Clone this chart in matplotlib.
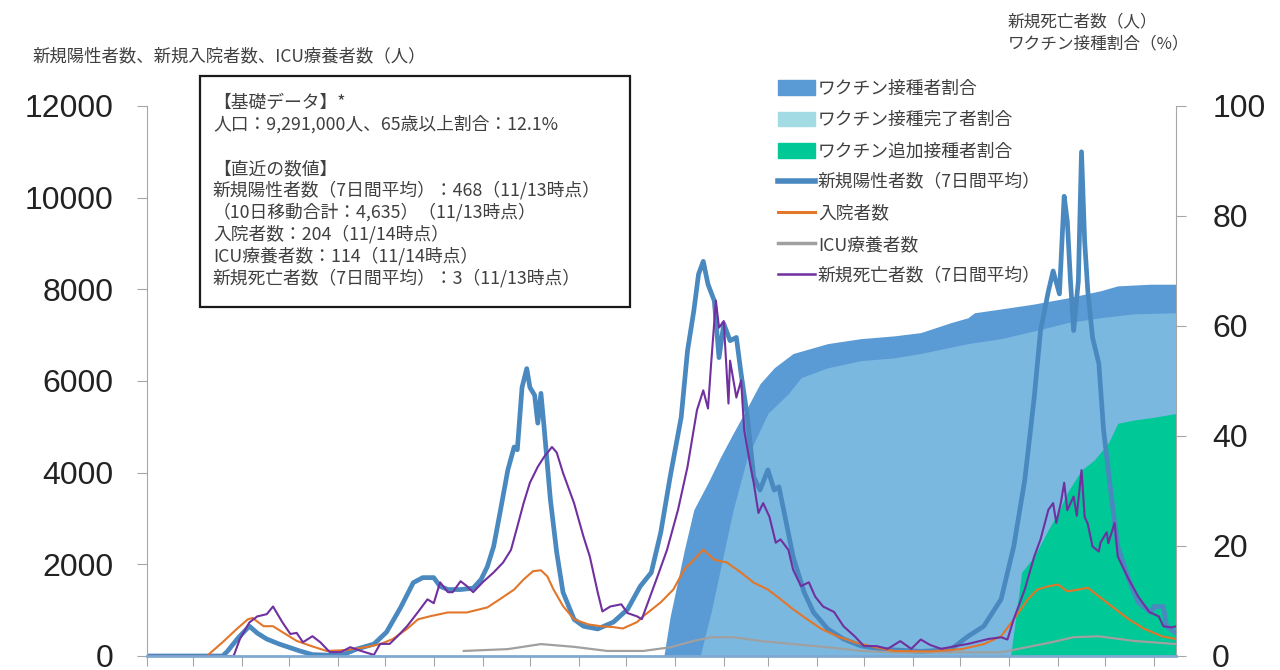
import matplotlib
matplotlib.use('Agg')
import matplotlib.pyplot as plt
import matplotlib.dates as mdates
from matplotlib.patches import Patch, Rectangle
from matplotlib.lines import Line2D
import pandas as pd

plt.rcParams['font.family'] = ['Noto Sans CJK JP', 'DejaVu Sans']

# x axis: days counted from 2020-02-01
start = pd.Timestamp('2020-02-01')
end = pd.Timestamp('2021-11-15')

# new positives (7-day average), left axis
pos_day = [0, 48, 51, 58, 65, 70, 76, 84, 97, 105, 123, 133, 144, 152, 161, 169, 175, 182, 186, 191,
           199, 207, 212, 216, 220, 224, 229, 233, 235, 238, 241, 243, 246, 248, 250, 252, 256, 260, 264, 271,
           277, 286, 296, 305, 313, 320, 326, 332, 339, 343, 347, 350, 353, 356, 360, 363, 366, 370, 374, 377,
           381, 385, 389, 394, 398, 401, 404, 410, 417, 423, 432, 442, 453, 466, 491, 510, 521, 531, 542, 550,
           557, 563, 567, 572, 575, 579, 582, 584, 586, 588, 591, 593, 595, 597, 600, 604, 607, 612, 616, 623,
           629, 637, 639, 645, 647, 653]
pos_val = [0, 0, 100, 400, 650, 500, 370, 260, 110, 30, 10, 150, 260, 520, 1060, 1600, 1710, 1710, 1520, 1450,
           1450, 1480, 1670, 1950, 2390, 3120, 4060, 4560, 4500, 5860, 6270, 5860, 5690, 5080, 5730, 4990, 3410, 2260, 1390, 800,
           650, 590, 740, 1020, 1520, 1820, 2690, 3910, 5210, 6660, 7530, 8330, 8610, 8110, 7750, 6510, 7250, 6880, 6950, 6160,
           5210, 3910, 3620, 4060, 3620, 3690, 3190, 2170, 1390, 950, 590, 370, 220, 150, 100, 140, 430, 650, 1240, 2390,
           3840, 5640, 7100, 7960, 8400, 7900, 10030, 9480, 8180, 7100, 8180, 11000, 9050, 7960, 6950, 6380, 4930, 3470, 2390, 1670,
           1170, 950, 1080, 1080, 650, 500]

# hospitalised, left axis
hosp_day = [0, 38, 48, 57, 64, 67, 74, 80, 86, 95, 104, 114, 127, 140, 148, 156, 165, 172, 180, 191,
            203, 216, 224, 233, 239, 245, 250, 254, 258, 264, 271, 280, 288, 296, 302, 311, 315, 326, 334, 341,
            347, 353, 360, 368, 377, 385, 394, 402, 410, 419, 428, 438, 449, 461, 474, 497, 517, 531, 542, 550,
            559, 565, 572, 578, 584, 591, 597, 604, 612, 623, 633, 644, 653]
hosp_val = [0, 0, 300, 590, 800, 830, 650, 650, 520, 330, 220, 110, 130, 200, 260, 370, 590, 800, 870, 950,
            950, 1060, 1240, 1450, 1670, 1850, 1870, 1740, 1450, 1090, 800, 690, 650, 630, 600, 740, 870, 1170, 1450, 1890,
            2100, 2320, 2100, 2040, 1820, 1600, 1450, 1240, 1020, 800, 590, 430, 300, 200, 110, 100, 150, 260, 430, 800,
            1240, 1450, 1520, 1560, 1410, 1450, 1490, 1300, 1090, 800, 590, 430, 370]

# ICU, left axis
icu_day = [201, 229, 250, 271, 292, 315, 332, 347, 358, 372, 389, 410, 432, 453, 474, 542, 574, 588, 604, 626, 653]
icu_val = [110, 150, 260, 200, 110, 110, 190, 330, 410, 410, 330, 260, 190, 110, 80, 80, 300, 410, 430, 330, 260]

# new deaths (7-day average), right axis
death_day = [0, 55, 59, 65, 70, 76, 80, 86, 91, 95, 99, 105, 110, 116, 123, 129, 135, 144, 148, 154,
             159, 165, 172, 178, 182, 186, 191, 194, 199, 203, 207, 213, 220, 226, 231, 235, 239, 243, 248, 252,
             257, 260, 264, 271, 277, 281, 286, 289, 294, 301, 305, 311, 314, 318, 324, 330, 337, 343, 349, 353,
             356, 358, 361, 363, 366, 369, 370, 374, 377, 379, 383, 385, 388, 391, 395, 399, 402, 407, 410, 415,
             420, 424, 429, 436, 442, 449, 455, 463, 470, 478, 485, 491, 497, 504, 513, 521, 534, 542, 546, 550,
             557, 563, 567, 572, 575, 577, 580, 582, 584, 588, 590, 593, 595, 597, 600, 604, 605, 609, 610, 614,
             616, 623, 629, 636, 642, 645, 650, 653]
death_val = [0, 0, 3.1, 6.1, 7.2, 7.6, 9.0, 6.1, 4.0, 4.2, 2.5, 3.6, 2.5, 0.7, 0.7, 1.6, 1.0, 0.2, 2.2, 2.2,
             3.6, 5.4, 8.0, 10.3, 9.6, 13.4, 11.6, 11.6, 13.6, 12.7, 11.6, 13.4, 15.2, 17.0, 19.3, 23.5, 27.8, 31.5, 34.4, 36.2,
             38.0, 37.0, 33.3, 27.8, 21.7, 18.1, 11.6, 8.1, 9.0, 9.4, 7.8, 7.2, 6.7, 9.8, 14.5, 19.3, 26.6, 34.4, 44.7, 48.3,
             45.0, 53.2, 64.6, 59.7, 60.9, 45.9, 53.7, 47.0, 50.1, 41.0, 34.4, 31.5, 26.0, 27.8, 25.3, 20.6, 21.2, 19.3, 15.7, 12.7,
             13.4, 10.8, 9.0, 8.0, 5.4, 3.6, 1.8, 1.8, 1.3, 2.7, 1.3, 3.0, 2.0, 1.3, 1.8, 2.2, 3.1, 3.4, 3.0, 6.7,
             12.1, 18.1, 21.2, 26.6, 27.8, 24.2, 28.0, 31.5, 26.5, 29.0, 25.5, 33.8, 25.3, 24.0, 19.9, 19.0, 20.6, 22.5, 20.5, 24.2,
             18.1, 13.9, 10.8, 8.0, 7.2, 5.4, 5.2, 5.4]

# vaccination shares (%), right axis
dose1_day = [328, 332, 341, 347, 356, 364, 372, 381, 389, 398, 410, 432, 453, 474, 491, 510, 521, 525, 542, 563,
             584, 605, 616, 637, 653]
dose1_val = [0, 7.2, 19.3, 26.6, 31.5, 36.2, 40.5, 45.2, 49.5, 52.4, 55.0, 56.8, 57.7, 58.2, 58.8, 60.6, 61.5, 62.4, 63.1, 64.0,
             65.1, 66.4, 67.3, 67.6, 67.6]
dose2_day = [351, 358, 364, 372, 381, 394, 407, 415, 432, 453, 474, 491, 521, 542, 563, 584, 605, 626, 653]
dose2_val = [0, 8.0, 16.0, 26.6, 36.2, 44.1, 47.7, 50.6, 52.4, 53.7, 54.2, 55.0, 56.8, 57.7, 59.1, 60.6, 61.5, 62.2, 62.4]
boost_day = [548, 553, 555, 563, 572, 578, 584, 593, 601, 610, 616, 626, 639, 653]
boost_val = [0, 10.8, 15.2, 18.1, 23.0, 26.0, 29.7, 33.8, 35.6, 38.7, 42.3, 42.9, 43.4, 44.1]

legend_labels = ['ワクチン接種者割合', 'ワクチン接種完了者割合', 'ワクチン追加接種者割合',
                 '新規陽性者数（7日間平均）', '入院者数', 'ICU療養者数', '新規死亡者数（7日間平均）']
info_lines = ['【基礎データ】*',
              '人口：9,291,000人、65歳以上割合：12.1%',
              '',
              '【直近の数値】',
              '新規陽性者数（7日間平均）：468（11/13時点）',
              '（10日移動合計：4,635）（11/13時点）',
              '入院者数：204（11/14時点）',
              'ICU療養者数：114（11/14時点）',
              '新規死亡者数（7日間平均）：3（11/13時点）']


def to_dates(days):
    return start + pd.to_timedelta(days, unit='D')


c_dose1 = '#5b9bd5'
c_dose2 = '#7ab8e0'
c_boost = '#00c896'
c_pos = '#4a89c0'
c_hosp = '#e2762a'
c_icu = '#a0a0a0'
c_death = '#7030a0'
grey = '#a6a6a6'
txt = '#404040'

fig = plt.figure(figsize=(12.8, 6.7), dpi=100)
ax = fig.add_axes([0.1148, 0.0209, 0.8040, 0.8209])
ax2 = ax.twinx()
# lines (ax) above the vaccination areas (ax2)
ax.set_zorder(ax2.get_zorder() + 1)
ax.patch.set_visible(False)

ax2.fill_between(to_dates(dose1_day), dose1_val, color=c_dose1, lw=0)
ax2.fill_between(to_dates(dose2_day), dose2_val, color=c_dose2, lw=0)
ax2.fill_between(to_dates(boost_day), boost_val, color=c_boost, lw=0)

ax.plot(to_dates(pos_day), pos_val, color=c_pos, lw=3.4, solid_joinstyle='round')
ax.plot(to_dates(icu_day), icu_val, color=c_icu, lw=1.6)
ax.plot(to_dates(hosp_day), hosp_val, color=c_hosp, lw=1.5)
ax.plot(to_dates(death_day), death_val, color=c_death, lw=1.5, transform=ax2.transData)

ax.set_xlim(start, end)
ax.set_ylim(0, 12000)
ax2.set_ylim(0, 100)
ax.set_yticks(range(0, 12001, 2000))
ax2.set_yticks(range(0, 101, 20))
ax.xaxis.set_major_locator(mdates.MonthLocator())
ax.tick_params(axis='x', labelbottom=False, length=7, color=grey)
ax.tick_params(axis='y', length=7, color=grey, labelsize=23, pad=17, labelcolor='#222222')
ax2.tick_params(axis='y', length=7, color=grey, labelsize=23, pad=19, labelcolor='#222222')
for t in ax.get_yticklabels() + ax2.get_yticklabels():
    t.set_family('Liberation Sans')

for s in ['top', 'right']:
    ax.spines[s].set_visible(False)
for s in ['top', 'left', 'bottom']:
    ax2.spines[s].set_visible(False)
ax.spines['left'].set_color(grey)
ax.spines['bottom'].set_color('#7fa9d2')
ax.spines['bottom'].set_linewidth(2)
ax2.spines['right'].set_color(grey)

# axis titles
fig.text(32 / 1280, 1 - 56 / 670, '新規陽性者数、新規入院者数、ICU療養者数（人）',
         fontsize=12.5, color=txt, va='center')
fig.text(1008 / 1280, 1 - 22 / 670, '新規死亡者数（人）', fontsize=12, color=txt, va='center')
fig.text(1008 / 1280, 1 - 44 / 670, 'ワクチン接種割合（%）', fontsize=12, color=txt, va='center')

# info box
fig.add_artist(Rectangle((200 / 1280, 1 - 307 / 670), 430 / 1280, 231 / 670,
                         transform=fig.transFigure, facecolor='white', edgecolor='#1a1a1a',
                         lw=1.6, zorder=5))
for i, line in enumerate(info_lines):
    if line:
        fig.text(213 / 1280, 1 - (103 + 21.9 * i) / 670, line, fontsize=12.8, color=txt,
                 va='center', zorder=6)

handles = [Patch(color=c_dose1), Patch(color='#a3dbe4'), Patch(color=c_boost),
           Line2D([], [], color=c_pos, lw=4), Line2D([], [], color=c_hosp, lw=2.2),
           Line2D([], [], color=c_icu, lw=2.5), Line2D([], [], color=c_death, lw=1.8)]
leg = fig.legend(handles, legend_labels, loc='upper left', bbox_to_anchor=(778 / 1280, 1 - 80 / 670),
                 frameon=False, fontsize=12.8, handlelength=2.1, handleheight=0.9,
                 handletextpad=0.15, labelspacing=0.74, borderpad=0, borderaxespad=0)
for t in leg.get_texts():
    t.set_color(txt)

fig.savefig('out.png', dpi=100)
